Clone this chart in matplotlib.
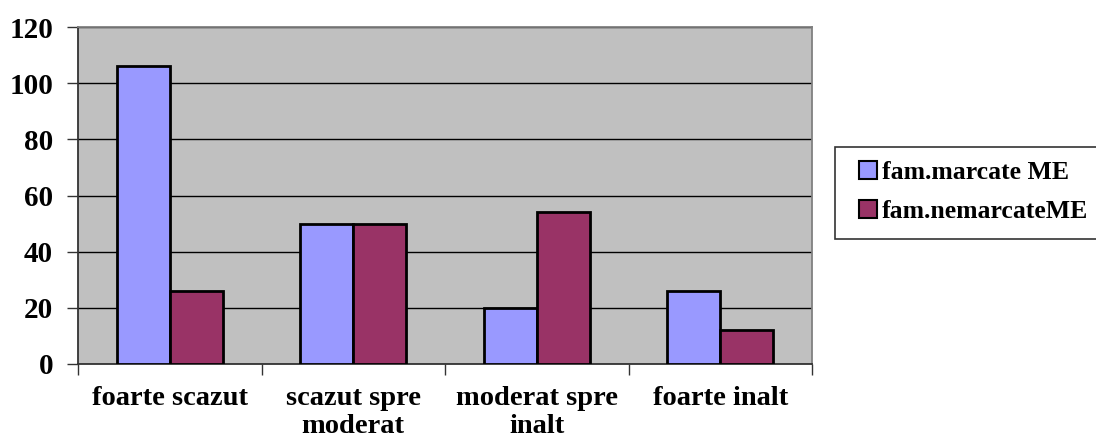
import matplotlib
matplotlib.use('Agg')
import matplotlib.pyplot as plt
import matplotlib.patches as mpatches
import numpy as np

plt.rcParams.update({
    'font.family': ['Liberation Serif', 'DejaVu Serif'],
    'font.weight': 'bold',
})

categories = ['foarte scazut', 'scazut spre\nmoderat', 'moderat spre\ninalt', 'foarte inalt']
series_names = ['fam.marcate ME', 'fam.nemarcateME']
marcate = [106, 50, 20, 26]
nemarcate = [26, 50, 54, 12]
colors = ['#9999FF', '#993366']

fig = plt.figure(figsize=(10.96, 4.41), dpi=100)
ax = fig.add_axes([78/1096, 1 - 364/441, (812 - 78)/1096, (364 - 27)/441])
ax.set_facecolor('#C0C0C0')

x = np.arange(len(categories))
w = 0.29
ax.bar(x - w/2, marcate, w, color=colors[0], edgecolor='black', linewidth=2, zorder=3)
ax.bar(x + w/2, nemarcate, w, color=colors[1], edgecolor='black', linewidth=2, zorder=3)

ax.set_xlim(-0.5, len(categories) - 0.5)
ax.set_ylim(0, 120)
ax.set_yticks(range(0, 121, 20))
ax.yaxis.grid(True, color='black', linewidth=1, zorder=1)
ax.set_axisbelow(True)
ax.tick_params(axis='y', labelsize=21, length=8, width=1, color='#333333', pad=10)

# category boundary ticks, labels at centers
ax.set_xticks(np.arange(-0.5, len(categories)), minor=False)
ax.set_xticklabels([''] * (len(categories) + 1))
ax.tick_params(axis='x', length=8, width=1, color='#333333')
ax.set_xticks(x, minor=True)
ax.set_xticklabels(categories, minor=True, fontsize=20.5, fontweight='bold', linespacing=1.12)
ax.tick_params(axis='x', which='minor', length=0, pad=16)

for s in ['left', 'bottom']:
    ax.spines[s].set_color('#333333')
    ax.spines[s].set_linewidth(1.3)
for s in ['top', 'right']:
    ax.spines[s].set_color('#808080')
    ax.spines[s].set_linewidth(1.3)

# legend frame runs off the right edge like the original
frame = mpatches.Rectangle((835/1096, 1 - 239/441), 0.3, (239 - 147)/441,
                           transform=fig.transFigure, facecolor='white',
                           edgecolor='#333333', linewidth=1.2, clip_on=False)
fig.patches.append(frame)
handles = [mpatches.Patch(facecolor=c, edgecolor='black', linewidth=1.5, label=n)
           for c, n in zip(colors, series_names)]
fig.legend(handles=handles, loc='center left', bbox_to_anchor=(846/1096, 1 - 192/441),
           frameon=False, handlelength=0.7, handleheight=0.7,
           handletextpad=0.2, labelspacing=0.65, borderpad=0, prop={'weight': 'bold', 'size': 18.5})

fig.savefig('out.png', dpi=100, facecolor='white')
